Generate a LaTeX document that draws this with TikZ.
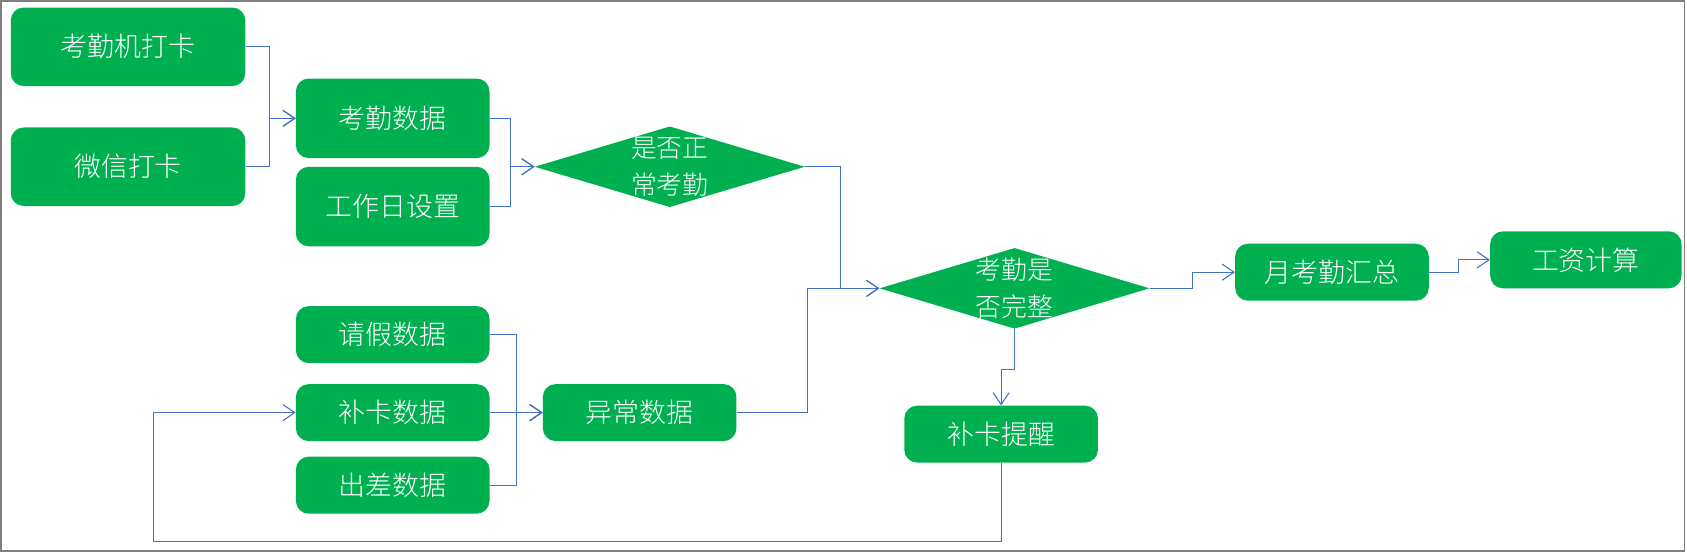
\documentclass[tikz,border=0pt]{standalone}
\usepackage{fontspec}
\newfontfamily\cjk{Noto Sans CJK SC Light}
\usepackage{tikz}
\usetikzlibrary{arrows.meta,shapes.geometric,positioning}
\definecolor{boxgreen}{HTML}{00B050}
\definecolor{linkblue}{HTML}{4472C4}
\definecolor{framegray}{HTML}{7F7F7F}

\begin{document}
\begin{tikzpicture}[x=1pt,y=-1pt,line join=miter,
  box/.style={rectangle,rounded corners=12pt,fill=boxgreen,text=white,
    font=\cjk\fontsize{25}{35}\selectfont,minimum width=180pt,minimum height=53pt,inner sep=0pt},
  bigbox/.style={box,minimum width=218pt,minimum height=73pt},
  decision/.style={diamond,fill=boxgreen,minimum width=251pt,minimum height=75pt,inner sep=0pt},
  dtext/.style={text=white,font=\cjk\fontsize{24}{35}\selectfont,align=center,inner sep=0pt},
  link/.style={draw=linkblue,line width=1pt,-{Straight Barb[length=11pt,width=15pt,line width=1pt]}},
  ]
  \useasboundingbox (0,0) rectangle (1568,513);
  \draw[framegray,line width=1.5pt] (0.75,0.75) rectangle (1565.5,512);
%%
  % Node: kqj
  \node[bigbox] (kqj) at (119,43.5) {考勤机打卡};
  % Node: wx
  \node[bigbox] (wx) at (119,155) {微信打卡};
  % Node: kqsj
  \node[box,minimum height=74pt] (kqsj) at (365,110) {考勤数据};
  % Node: gzr
  \node[box,minimum height=74pt] (gzr) at (365,192) {工作日设置};
  % Node: zc
  \node[decision,label={[dtext]center:{是否正\\常考勤}}] (zc) at (622.5,155) {};
  % Node: wz
  \node[decision,label={[dtext]center:{考勤是\\否完整}}] (wz) at (943,268) {};
  % Node: qj
  \node[box] (qj) at (365,311) {请假数据};
  % Node: bk
  \node[box] (bk) at (365,383.5) {补卡数据};
  % Node: cc
  \node[box] (cc) at (365,451) {出差数据};
  % Node: yc
  \node[box] (yc) at (594.5,383.5) {异常数据};
  % Node: bktx
  \node[box] (bktx) at (930.5,403.5) {补卡提醒};
  % Node: yhz
  \node[box] (yhz) at (1238,253) {月考勤汇总};
  % Node: gz
  \node[box,minimum width=178pt] (gz) at (1474,241.5) {工资计算};
  \coordinate (back) at (143,503);
%%
  % Edge: kqj -> kqsj
  \draw[link] (kqj.east) -- ++(22,0) |- (kqsj.west);
  % Edge: wx -> kqsj
  \draw[link] (wx.east) -- ++(22,0) |- (kqsj.west);
  % Edge: kqsj -> zc
  \draw[link] (kqsj.east) -- ++(19,0) |- (zc.west);
  % Edge: gzr -> zc
  \draw[link] (gzr.east) -- ++(19,0) |- (zc.west);
  % Edge: zc -> wz
  \draw[link] (zc.east) -- ++(33,0) |- (wz.west);
  % Edge: yc -> wz
  \draw[link] (yc.east) -- ++(66,0) |- (wz.west);
  % Edge: qj -> yc
  \draw[link] (qj.east) -- ++(25,0) |- (yc.west);
  % Edge: bk -> yc
  \draw[link] (bk.east) -- (yc.west);
  % Edge: cc -> yc
  \draw[link] (cc.east) -- ++(25,0) |- (yc.west);
  % Edge: wz -> yhz
  \draw[link] (wz.east) -- ++(40,0) |- (yhz.west);
  % Edge: yhz -> gz
  \draw[link] (yhz.east) -- ++(27,0) |- (gz.west);
  % Edge: wz -> bktx
  \draw[link] (wz.south) -- ++(0,38) -| (bktx.north);
  % Edge: bktx -> bk
  \draw[link] (bktx.south) |- (back) |- (bk.west);
%
\end{tikzpicture}
\end{document}
